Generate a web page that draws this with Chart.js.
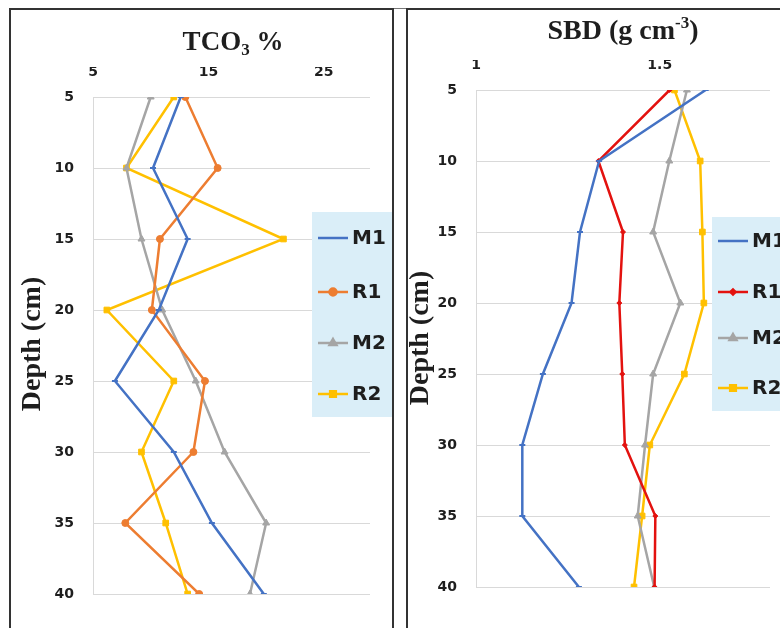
<!DOCTYPE html>
<html>
<head>
<meta charset="utf-8">
<title>TCO3 and SBD depth profiles</title>
<script src="https://cdn.jsdelivr.net/npm/chart.js@4.4.1/dist/chart.umd.min.js"></script>
<style>
  html, body { margin: 0; padding: 0; background: #fff; }
  #wrap { position: relative; width: 780px; height: 628px; overflow: hidden; }
  #wrap canvas { position: absolute; top: 0; }
  #tcoChart { left: 0; }
  #sbdChart { left: 400px; }
  .frame { position: absolute; top: 8px; height: 700px; border: 2px solid #333; pointer-events: none; }
  .topline { position: absolute; left: 10px; top: 8px; width: 780px; border-top: 1px solid #777; }
</style>
</head>
<body>
<div id="wrap">
  <canvas id="tcoChart" width="392" height="628"></canvas>
  <canvas id="sbdChart" width="380" height="628"></canvas>
  <div class="topline"></div>
  <div class="frame" style="left:9px;width:381px;"></div>
  <div class="frame" style="left:406px;width:500px;"></div>
</div>

<script>
// Depth of each sample (cm), shared by both panels
const depths = [5, 10, 15, 20, 25, 30, 35, 40];
const seriesNames = ['M1', 'R1', 'M2', 'R2'];

// TCO3 % (left panel)
const tcoM1 = [12.6, 10.2, 13.2, 10.7, 6.9, 12.0, 15.3, 19.8];
const tcoR1 = [13.0, 15.8, 10.8, 10.1, 14.7, 13.7, 7.8, 14.2];
const tcoM2 = [10.0, 7.9, 9.2, 11.0, 13.9, 16.4, 20.0, 18.6];
const tcoR2 = [12.0, 7.9, 21.5, 6.2, 12.0, 9.2, 11.3, 13.2];
const tcoTicks = [5, 15, 25];

// SBD g cm-3 (right panel)
const sbdM1 = [1.625, 1.335, 1.283, 1.26, 1.182, 1.126, 1.126, 1.28];
const sbdR1 = [1.527, 1.333, 1.40, 1.39, 1.398, 1.405, 1.488, 1.486];
const sbdM2 = [1.574, 1.526, 1.482, 1.556, 1.482, 1.46, 1.44, 1.485];
const sbdR2 = [1.54, 1.61, 1.616, 1.62, 1.567, 1.473, 1.452, 1.43];
const sbdTicks = [1, 1.5];

const colors = {
  blue: '#4472C4',
  orange: '#ED7D31',
  gray: '#A5A5A5',
  yellow: '#FFC000',
  red: '#E3120F',
  grid: '#D9D9D9',
  text: '#1e1e1e',
  legendBg: '#DAEEF8'
};

const tickFont = { family: "'DejaVu Sans', sans-serif", size: 14, weight: 'bold' };

function series(label, values, color, style, radius) {
  return {
    label: label,
    data: depths.map((d, i) => ({ x: values[i], y: d })),
    borderColor: color,
    backgroundColor: color,
    borderWidth: 2.5,
    pointStyle: style,
    pointRadius: radius,
    pointBorderWidth: style === 'line' ? 2 : 1,
    showLine: true,
    tension: 0
  };
}

function scalesFor(min, max, ticks) {
  return {
    x: {
      type: 'linear', position: 'top', min: min, max: max,
      afterBuildTicks: s => { s.ticks = ticks.map(v => ({ value: v })); },
      afterFit: s => { s.height = 30; },
      grid: { display: false, drawTicks: false },
      border: { display: false },
      ticks: { padding: 16, font: tickFont, color: colors.text, callback: v => String(v) }
    },
    y: {
      type: 'linear', reverse: true, min: 5, max: 40,
      afterBuildTicks: s => { s.ticks = depths.map(v => ({ value: v })); },
      afterFit: s => { s.width = 40; },
      grid: { color: colors.grid, drawTicks: false },
      border: { color: colors.grid },
      ticks: { padding: 19, font: tickFont, color: colors.text }
    }
  };
}

// Draws the panel title, the rotated depth title and the boxed legend
const panelText = {
  id: 'panelText',
  afterDraw(chart, args, o) {
    const ctx = chart.ctx;
    ctx.save();
    ctx.fillStyle = colors.text;
    ctx.textBaseline = 'alphabetic';

    // title made of pieces: [text, size, baseline shift]
    const serif = "bold {s}px 'Liberation Serif', 'Times New Roman', serif";
    let total = 0;
    o.title.forEach(p => { ctx.font = serif.replace('{s}', p[1]); total += ctx.measureText(p[0]).width; });
    let tx = o.titleX - total / 2;
    ctx.textAlign = 'left';
    o.title.forEach(p => {
      ctx.font = serif.replace('{s}', p[1]);
      ctx.fillText(p[0], tx, o.titleY + p[2]);
      tx += ctx.measureText(p[0]).width;
    });

    // y axis title
    ctx.save();
    ctx.translate(o.depthX, o.depthY);
    ctx.rotate(-Math.PI / 2);
    ctx.textAlign = 'center';
    ctx.font = serif.replace('{s}', 28);
    ctx.fillText('Depth (cm)', 0, 0);
    ctx.restore();

    // legend
    const b = o.box;
    ctx.fillStyle = colors.legendBg;
    ctx.fillRect(b[0], b[1], b[2], b[3]);
    chart.data.datasets.forEach((ds, i) => {
      const y = o.rows[i];
      ctx.strokeStyle = ds.borderColor;
      ctx.fillStyle = ds.borderColor;
      ctx.lineWidth = 2.5;
      ctx.beginPath();
      ctx.moveTo(o.lineX, y);
      ctx.lineTo(o.lineX + 30, y);
      ctx.stroke();
      if (ds.pointStyle !== 'line') {
        Chart.helpers.drawPoint(ctx, { pointStyle: ds.pointStyle, radius: ds.pointRadius, borderWidth: 1, rotation: 0 }, o.lineX + 15, y);
      }
      ctx.fillStyle = colors.text;
      ctx.font = "bold 20px 'DejaVu Sans', sans-serif";
      ctx.textAlign = 'left';
      ctx.textBaseline = 'middle';
      ctx.fillText(ds.label, o.lineX + 34, y + 1);
    });
    ctx.restore();
  }
};

new Chart(document.getElementById('tcoChart'), {
  type: 'scatter',
  data: {
    datasets: [
      series(seriesNames[0], tcoM1, colors.blue, 'line', 3),
      series(seriesNames[1], tcoR1, colors.orange, 'circle', 3.5),
      series(seriesNames[2], tcoM2, colors.gray, 'triangle', 4),
      series(seriesNames[3], tcoR2, colors.yellow, 'rect', 4)
    ]
  },
  options: {
    responsive: false,
    animation: false,
    layout: { padding: { left: 53, right: 22, top: 67, bottom: 34 } },
    scales: scalesFor(5, 29, tcoTicks),
    plugins: {
      legend: { display: false },
      tooltip: { enabled: false },
      panelText: {
        title: [['TCO', 27, 0], ['3', 17, 5], [' %', 27, 0]],
        titleX: 233, titleY: 50,
        depthX: 40, depthY: 344,
        box: [312, 212, 80, 205],
        rows: [238, 292, 343, 394],
        lineX: 318
      }
    }
  },
  plugins: [panelText]
});

new Chart(document.getElementById('sbdChart'), {
  type: 'scatter',
  data: {
    datasets: [
      series(seriesNames[0], sbdM1, colors.blue, 'line', 3),
      series(seriesNames[1], sbdR1, colors.red, 'rectRot', 2.5),
      series(seriesNames[2], sbdM2, colors.gray, 'triangle', 4),
      series(seriesNames[3], sbdR2, colors.yellow, 'rect', 4)
    ]
  },
  options: {
    responsive: false,
    animation: false,
    layout: { padding: { left: 36, right: 10, top: 60, bottom: 41 } },
    scales: scalesFor(1, 1.8, sbdTicks),
    plugins: {
      legend: { display: false },
      tooltip: { enabled: false },
      panelText: {
        title: [['SBD (g cm', 28, 0], ['-3', 17, -11], [')', 28, 0]],
        titleX: 223, titleY: 39,
        depthX: 28, depthY: 338,
        box: [312, 217, 68, 194],
        rows: [241, 292, 338, 388],
        lineX: 318
      }
    }
  },
  plugins: [panelText]
});
</script>
</body>
</html>
